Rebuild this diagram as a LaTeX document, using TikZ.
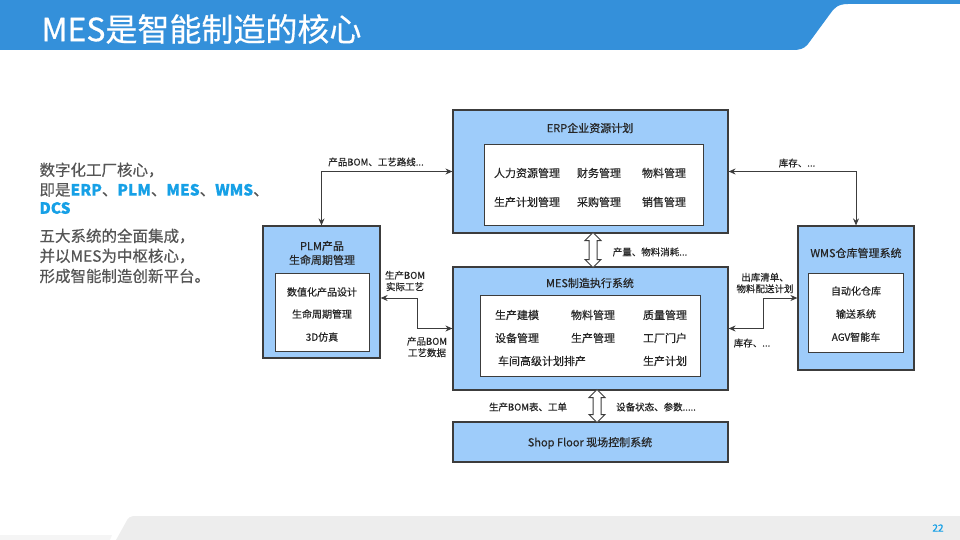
\documentclass[tikz,border=0pt]{standalone}
\usepackage{fontspec}
\setmainfont{Noto Sans CJK SC}[FakeBold=0.5]
\usepackage{xcolor}
\usepackage{tikz}
\usetikzlibrary{fit,arrows.meta,shapes.arrows}
\definecolor{hdblue}{RGB}{52,144,218}
\definecolor{boxblue}{RGB}{158,204,250}
\definecolor{txtblue}{RGB}{22,160,230}
\definecolor{txtgray}{RGB}{85,85,85}
\definecolor{edge}{RGB}{60,60,60}

\begin{document}
\begin{tikzpicture}[x=1pt,y=-1pt,
    sysbox/.style={draw=edge,fill=boxblue,line width=1.2pt,inner sep=0pt},
    innerbox/.style={draw=edge,fill=white,line width=1pt,inner sep=0pt},
    boxtitle/.style={font=\fontsize{11}{14}\selectfont,align=center,text=black!85},
    item/.style={font=\fontsize{11}{13}\selectfont,text=black!85},
    lbl/.style={font=\fontsize{9.5}{11.5}\selectfont,align=center,text=black!85},
    link/.style={draw=edge,line width=1pt,{Stealth[length=7pt,width=6pt]}-{Stealth[length=7pt,width=6pt]}},
    fatarrow/.style={double arrow,draw=edge,fill=white,line width=1pt,inner sep=3.5pt,double arrow head extend=4pt,rotate=90},
    side/.style={anchor=west,font=\fontsize{15.5}{18}\selectfont,text=txtgray}]
    \useasboundingbox (0,0) rectangle (960,540);

    \fill[hdblue] (0,0) -- (960,0) -- (960,4) -- (848,4) .. controls (838,4) and (834,8) .. (830,14) -- (808,44) .. controls (804,49) and (800,50) .. (792,50) -- (0,50) -- cycle;
    \node[anchor=west,text=white,font=\fontsize{32}{35}\selectfont] (title) at (38,29) {MES是智能制造的核心};

    \fill[black!4] (0,535) -- (112,535) -- (110,540) -- (0,540) -- cycle;
    \fill[black!7] (116,540) -- (126,522) .. controls (128,517) and (131,516) .. (136,516) -- (960,516) -- (960,540) -- cycle;
    \node[text=txtblue,font=\fontsize{10}{11}\selectfont] (page) at (938,528) {22};

    \node[side] (t1) at (36,170) {数字化工厂核心，};
    \node[side] (t2) at (36,190) {即是{\bfseries\color{txtblue}ERP}、{\bfseries\color{txtblue}PLM}、{\bfseries\color{txtblue}MES}、{\bfseries\color{txtblue}WMS}、};
    \node[side,text=txtblue,font=\fontsize{15.5}{18}\selectfont\bfseries] (t3) at (36,208) {DCS};
    \node[side] (t4) at (36,236) {五大系统的全面集成，};
    \node[side] (t5) at (36,256) {并以MES为中枢核心，};
    \node[side] (t6) at (36,276) {形成智能制造创新平台。};

    \node[sysbox,fit={(453,110) (728,233)}] (ERP) {};
    \node[innerbox,fit={(484,145) (703,225)}] (ERPin) {};
    \node[boxtitle] (ERPt) at (590,128) {ERP企业资源计划};
    \node[item] (e1) at (527,173) {人力资源管理};
    \node[item] (e2) at (599,173) {财务管理};
    \node[item] (e3) at (664,173) {物料管理};
    \node[item] (e4) at (527,202) {生产计划管理};
    \node[item] (e5) at (599,202) {采购管理};
    \node[item] (e6) at (664,202) {销售管理};

    \node[sysbox,fit={(453,267) (728,390)}] (MES) {};
    \node[innerbox,fit={(480,295) (700,376)}] (MESin) {};
    \node[boxtitle] (MESt) at (590,283) {MES制造执行系统};
    \node[item] (m1) at (517,315) {生产建模};
    \node[item] (m2) at (593,315) {物料管理};
    \node[item] (m3) at (665,315) {质量管理};
    \node[item] (m4) at (517,338) {设备管理};
    \node[item] (m5) at (593,338) {生产管理};
    \node[item] (m6) at (665,338) {工厂门户};
    \node[item] (m7) at (542,361) {车间高级计划排产};
    \node[item] (m8) at (665,361) {生产计划};

    \node[sysbox,fit={(453,422) (728,462)}] (SF) {};
    \node[boxtitle] (SFt) at (590,443) {Shop Floor 现场控制系统};

    \node[sysbox,fit={(263,226) (380,358)}] (PLM) {};
    \node[innerbox,fit={(275,273) (369,351)}] (PLMin) {};
    \node[boxtitle] (PLMt) at (322,253) {PLM产品\\生命周期管理};
    \node[item,font=\fontsize{10}{12}\selectfont] (p1) at (322,292) {数值化产品设计};
    \node[item,font=\fontsize{10}{12}\selectfont] (p2) at (322,314) {生命周期管理};
    \node[item,font=\fontsize{10}{12}\selectfont] (p3) at (322,337) {3D仿真};

    \node[sysbox,fit={(798,226) (914,370)}] (WMS) {};
    \node[innerbox,fit={(808,273) (903,352)}] (WMSin) {};
    \node[boxtitle] (WMSt) at (856,253) {WMS仓库管理系统};
    \node[item,font=\fontsize{10}{12}\selectfont] (w1) at (856,291) {自动化仓库};
    \node[item,font=\fontsize{10}{12}\selectfont] (w2) at (856,314) {输送系统};
    \node[item,font=\fontsize{10}{12}\selectfont] (w3) at (856,337) {AGV智能车};

    \draw[link] (PLM.north) |- (ERP.west);
    \draw[link] (PLM.east |- 0,298) -- (417,298) |- (MES.west);
    \draw[link] (ERP.east) -| (WMS.north);
    \draw[link] (WMS.west |- 0,298) -- (763,298) |- (MES.east);

    \node[fatarrow,minimum height=35pt] (A1) at (593,250) {};
    \node[fatarrow,minimum height=33pt] (A2) at (597,406) {};

    \node[lbl] (l1) at (376,162) {产品BOM、工艺路线...};
    \node[lbl] (l2) at (405,281) {生产BOM\\实际工艺};
    \node[lbl] (l3) at (427,347) {产品BOM\\工艺数据};
    \node[lbl] (l4) at (797,163) {库存、...};
    \node[lbl] (l5) at (765,283) {出库清单、\\物料配送计划};
    \node[lbl] (l6) at (752,343) {库存、...};
    \node[lbl] (l7) at (650,252) {产量、物料消耗...};
    \node[lbl] (l8) at (528,407) {生产BOM表、工单};
    \node[lbl] (l9) at (656,407) {设备状态、参数.....};
\end{tikzpicture}
\end{document}
